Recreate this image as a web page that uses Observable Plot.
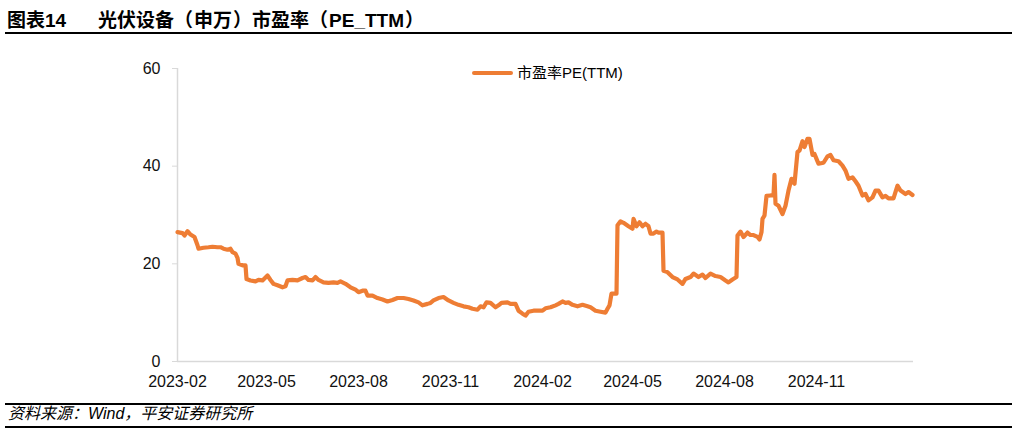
<!DOCTYPE html>
<html>
<head>
<meta charset="utf-8">
<script src="https://cdn.jsdelivr.net/npm/d3@7"></script>
<script src="https://cdn.jsdelivr.net/npm/@observablehq/plot@0.6"></script>
<style>
  html, body { margin: 0; padding: 0; background: #fff; }
  #page { position: relative; width: 1017px; height: 434px; background: #fff; overflow: hidden;
          font-family: "Liberation Sans", "Noto Sans CJK SC", sans-serif; color: #000; }
  .abs { position: absolute; white-space: nowrap; }
  .title { font-weight: bold; font-size: 19px; line-height: 19px; top: 11px; }
  .pl, .pr { display: inline-block; width: 20px; }
  .pl { text-align: left; }
  .pr { text-align: right; }
  .rule { position: absolute; left: 5px; width: 1007px; background: #000; }
  .foot { font-style: italic; font-size: 16px; line-height: 16px; top: 406px; left: 8px; }
  #legend-line { position: absolute; left: 472px; top: 71px; width: 41px; height: 4px; border-radius: 2px; background: #EE7D34; }
  #legend-text { left: 517px; top: 65px; font-size: 15px; line-height: 16px; color: #000; }
</style>
</head>
<body>
<div id="page">
  <div class="abs title" style="left:7px">图表14</div>
  <div class="abs title" style="left:98px">光伏设备<span class="pl">（</span>申万<span class="pr">）</span>市盈率<span class="pl">（</span>PE_TTM<span class="pr">）</span></div>
  <div class="rule" style="top:32px;height:2px"></div>
  <div id="chart" class="abs" style="left:0;top:40px"></div>
  <div id="legend-line"></div>
  <div id="legend-text" class="abs">市盈率PE(TTM)</div>
  <div class="rule" style="top:403px;height:2px"></div>
  <div class="abs foot">资料来源：Wind，平安证券研究所</div>
  <div class="rule" style="top:426px;height:2px"></div>
</div>
<script>
const seriesName = "市盈率PE(TTM)";
const dates = [
  "2023-02-01","2023-02-06","2023-02-08","2023-02-11","2023-02-14","2023-02-18","2023-02-21","2023-02-22","2023-02-27",
  "2023-03-04","2023-03-08","2023-03-13","2023-03-16","2023-03-19","2023-03-23","2023-03-26","2023-03-28","2023-03-31",
  "2023-04-02","2023-04-03","2023-04-07","2023-04-10","2023-04-11","2023-04-15","2023-04-20","2023-04-23","2023-04-27",
  "2023-05-02","2023-05-05","2023-05-08","2023-05-12","2023-05-17","2023-05-20","2023-05-22","2023-05-27",
  "2023-06-01","2023-06-06","2023-06-09","2023-06-12","2023-06-16","2023-06-19","2023-06-22","2023-06-27",
  "2023-07-02","2023-07-07","2023-07-11","2023-07-14","2023-07-19","2023-07-24","2023-07-29",
  "2023-08-01","2023-08-05","2023-08-08","2023-08-10","2023-08-15","2023-08-20","2023-08-25","2023-08-30",
  "2023-09-04","2023-09-09","2023-09-15","2023-09-20","2023-09-25","2023-09-30",
  "2023-10-04","2023-10-09","2023-10-12","2023-10-15","2023-10-20","2023-10-25","2023-10-30",
  "2023-11-04","2023-11-09","2023-11-14","2023-11-19","2023-11-23","2023-11-28",
  "2023-12-01","2023-12-04","2023-12-07","2023-12-11","2023-12-16","2023-12-19","2023-12-22","2023-12-28","2023-12-31",
  "2024-01-05","2024-01-08","2024-01-12","2024-01-15","2024-01-18","2024-01-23","2024-01-28",
  "2024-02-01","2024-02-04","2024-02-09","2024-02-14","2024-02-17","2024-02-21","2024-02-24","2024-02-27",
  "2024-03-02","2024-03-07","2024-03-12","2024-03-17","2024-03-20","2024-03-25","2024-03-30",
  "2024-04-04","2024-04-06","2024-04-08","2024-04-10","2024-04-13","2024-04-15","2024-04-16","2024-04-19","2024-04-22","2024-04-27",
  "2024-05-01","2024-05-02","2024-05-05","2024-05-08","2024-05-11","2024-05-14","2024-05-17","2024-05-19","2024-05-22","2024-05-25","2024-05-27","2024-05-31",
  "2024-06-01","2024-06-05","2024-06-10","2024-06-15","2024-06-20","2024-06-23","2024-06-28",
  "2024-07-01","2024-07-06","2024-07-10","2024-07-13","2024-07-18","2024-07-23","2024-07-28",
  "2024-08-02","2024-08-05","2024-08-09","2024-08-13","2024-08-14","2024-08-17","2024-08-20","2024-08-24","2024-08-27","2024-08-30",
  "2024-09-03","2024-09-05","2024-09-07","2024-09-08","2024-09-10","2024-09-12","2024-09-16","2024-09-19","2024-09-20","2024-09-21","2024-09-24","2024-09-28",
  "2024-10-01","2024-10-04","2024-10-07","2024-10-10","2024-10-13","2024-10-15","2024-10-18","2024-10-20","2024-10-23","2024-10-25","2024-10-28","2024-10-30",
  "2024-11-01","2024-11-03","2024-11-08","2024-11-12","2024-11-15","2024-11-18","2024-11-23","2024-11-27","2024-11-30",
  "2024-12-03","2024-12-07","2024-12-10","2024-12-13","2024-12-17","2024-12-20","2024-12-23","2024-12-27","2024-12-30",
  "2025-01-02","2025-01-06","2025-01-09","2025-01-12","2025-01-17","2025-01-21","2025-01-24","2025-01-29",
  "2025-02-01","2025-02-05"
];
const pe = [
  26.5,26.3,25.8,26.7,26.0,25.5,23.8,23.1,23.3,
  23.4,23.5,23.4,23.4,23.1,22.9,23.1,22.4,22.1,
  21.2,20.0,19.7,19.7,16.9,16.6,16.4,16.7,16.6,
  17.6,16.7,15.9,15.6,15.2,15.4,16.6,16.7,
  16.6,17.1,17.3,16.7,16.6,17.3,16.7,16.2,
  16.1,16.2,16.1,16.4,15.9,15.2,14.7,
  14.2,14.5,14.5,13.5,13.5,13.0,12.7,12.3,
  12.6,13.0,13.0,12.8,12.5,12.1,
  11.5,11.8,12.0,12.5,13.0,13.2,12.5,
  12.0,11.6,11.3,11.1,10.8,10.6,
  11.3,11.1,12.1,12.0,11.1,11.5,12.0,12.1,11.8,
  11.8,10.4,9.8,9.4,10.2,10.4,10.4,
  10.4,10.9,11.1,11.5,11.8,12.3,12.0,12.1,
  11.6,11.3,11.6,11.3,11.1,10.4,10.2,
  10.0,10.8,11.5,13.9,13.9,13.9,27.9,28.7,28.4,27.7,
  27.2,29.2,27.7,28.5,27.7,28.2,27.7,26.2,26.2,26.6,26.4,26.4,
  18.6,18.3,17.3,16.8,15.9,16.9,17.3,
  18.0,17.3,17.8,17.1,18.0,17.5,17.3,
  16.6,16.2,16.8,17.3,25.8,26.6,25.5,26.4,25.9,25.9,
  25.5,25.0,26.5,29.2,29.9,33.9,34.0,34.0,38.2,32.3,31.9,30.2,
  31.9,35.0,37.4,36.4,42.9,43.2,45.1,43.9,45.6,45.6,42.3,42.5,
  41.5,40.5,40.7,42.0,42.3,41.2,41.0,40.1,39.1,
  37.4,37.7,36.9,36.0,34.0,34.3,33.0,33.6,35.0,
  35.0,33.6,33.9,33.4,33.4,36.0,35.0,34.3,
  34.7,34.1
];
const xTicks = ["2023-02-01","2023-05-01","2023-08-01","2023-11-01","2024-02-01","2024-05-01","2024-08-01","2024-11-01"];
const yTicks = [0, 20, 40, 60];
const xStart = "2023-02-01";
const xEnd = "2025-02-06";

const data = dates.map((d, i) => ({date: new Date(d + "T00:00:00Z"), value: pe[i]}));
const tickDates = xTicks.map(d => new Date(d + "T00:00:00Z"));

const chart = Plot.plot({
  width: 1017,
  height: 360,
  marginLeft: 177,
  marginRight: 104,
  marginTop: 28,
  marginBottom: 39,
  style: {fontFamily: '"Liberation Sans", "Noto Sans CJK SC", sans-serif', fontSize: "16px", color: "#111", background: "transparent"},
  x: {type: "utc", domain: [new Date(xStart + "T00:00:00Z"), new Date(xEnd + "T00:00:00Z")]},
  y: {domain: [0, 60]},
  marks: [
    Plot.ruleX([new Date(xStart + "T00:00:00Z")], {stroke: "#d9d9d9", strokeWidth: 1.5}),
    Plot.ruleY([0], {stroke: "#d9d9d9", strokeWidth: 1.5}),
    Plot.axisY({ticks: yTicks, tickSize: 5, tickPadding: 12, stroke: "#d9d9d9", fill: "#111", label: null, fontSize: 16}),
    Plot.axisX({ticks: tickDates, tickFormat: d3.utcFormat("%Y-%m"), tickSize: 0, tickPadding: 14, fill: "#111", label: null, fontSize: 16}),
    Plot.line(data, {x: "date", y: "value", stroke: "#EE7D34", strokeWidth: 4.2, title: () => seriesName})
  ]
});
document.getElementById("chart").appendChild(chart);
</script>
</body>
</html>
